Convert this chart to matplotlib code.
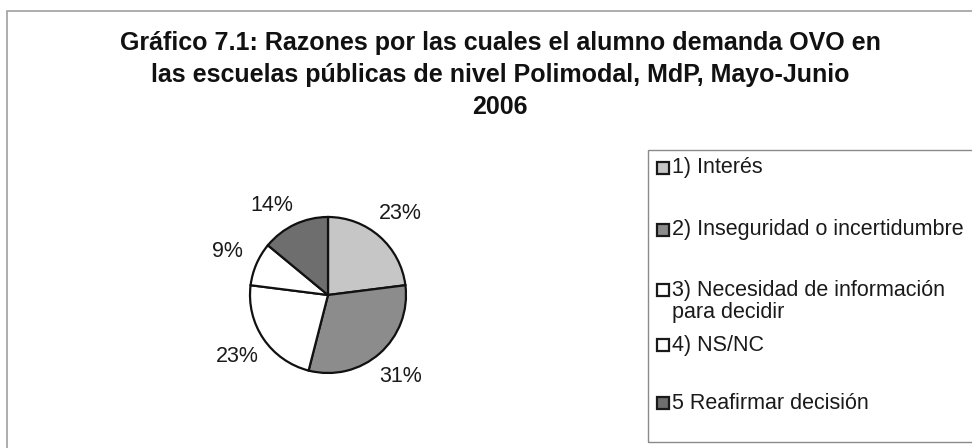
import matplotlib
matplotlib.use("Agg")
import matplotlib.pyplot as plt
from matplotlib.patches import Rectangle

plt.rcParams['font.family'] = ['Liberation Sans', 'DejaVu Sans']

# datos del grafico
razones = ["1) Interés",
           "2) Inseguridad o incertidumbre",
           "3) Necesidad de información\npara decidir",
           "4) NS/NC",
           "5 Reafirmar decisión"]
porcentajes = [23, 31, 23, 9, 14]
colores = ["#c6c6c6", "#8c8c8c", "#ffffff", "#ffffff", "#6e6e6e"]
titulo = ("Gráfico 7.1: Razones por las cuales el alumno demanda OVO en\n"
          "las escuelas públicas de nivel Polimodal, MdP, Mayo-Junio\n"
          "2006")

W, H = 972, 448
fig = plt.figure(figsize=(W / 100, H / 100), dpi=100)

def fx(px):
    return px / W

def fy(py):
    return 1 - py / H

# marco exterior del grafico (se sale de la imagen a la derecha y abajo)
fig.patches.append(Rectangle((fx(7), fy(460)), fx(1000), fy(11) - fy(460),
                             transform=fig.transFigure, fill=False,
                             edgecolor="#a0a0a0", linewidth=1.2))

fig.text(fx(500), fy(75), titulo, ha="center", va="center",
         fontsize=18, fontweight="bold", linespacing=1.4, color="#111111")

# torta
cx, cy, r = 328, 295, 78
ax = fig.add_axes([fx(cx - r), fy(cy + r), fx(2 * r), fy(cy - r) - fy(cy + r)])
wedges, textos, pcts = ax.pie(porcentajes, colors=colores, startangle=90,
                              counterclock=False, autopct="%1.0f%%",
                              pctdistance=1.4, radius=1,
                              wedgeprops=dict(edgecolor="#111111", linewidth=1.6),
                              textprops=dict(fontsize=15.5, color="#1a1a1a"))
# Excel corre un poco la etiqueta del 14%
x14, y14 = pcts[4].get_position()
pcts[4].set_position((x14 - 0.12, y14 - 0.12))
ax.set_xlim(-1, 1)
ax.set_ylim(-1, 1)
ax.axis("off")

# leyenda (caja cortada por el borde derecho)
fig.patches.append(Rectangle((fx(648), fy(442)), fx(400), fy(150) - fy(442),
                             transform=fig.transFigure, fill=False,
                             edgecolor="#8a8a8a", linewidth=1.0))

y_cuadro = [168, 230, 290, 345, 403]
y_texto = [168, 230, 301.5, 345, 403]
for i in range(len(razones)):
    fig.patches.append(Rectangle((fx(657), fy(y_cuadro[i] + 6)), fx(12), fy(0) - fy(12),
                                 transform=fig.transFigure, facecolor=colores[i],
                                 edgecolor="#1a1a1a", linewidth=1.6))
    fig.text(fx(672), fy(y_texto[i]), razones[i], ha="left", va="center",
             fontsize=15.5, color="#1a1a1a", linespacing=1.05)

fig.savefig("out.png", dpi=100)
